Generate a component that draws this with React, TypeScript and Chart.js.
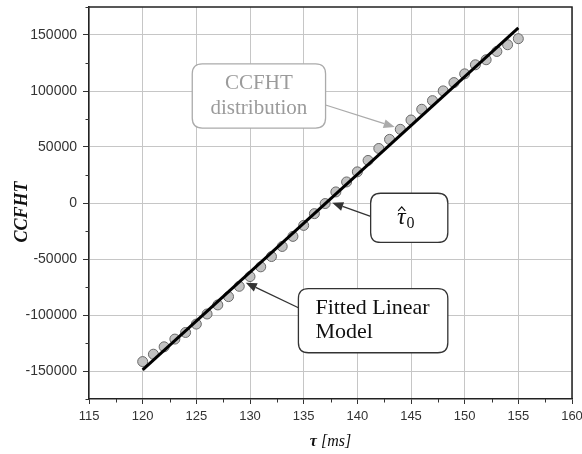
import React, { useEffect, useRef } from 'react';
import { Chart, registerables } from 'chart.js';

Chart.register(...registerables);

// ---- data ----
const tauValues = [
  120, 121, 122, 123, 124, 125, 126, 127, 128, 129, 130, 131, 132, 133, 134, 135, 136, 137,
  138, 139, 140, 141, 142, 143, 144, 145, 146, 147, 148, 149, 150, 151, 152, 153, 154, 155,
];
const ccfhtValues = [
  -141600, -135000, -128400, -121500, -115600, -108100, -99100, -91000, -83600, -74400,
  -65700, -57000, -47800, -38800, -29800, -20000, -9500, -500, 9900, 18800, 27800, 38000,
  48700, 56800, 65800, 74100, 83700, 91400, 100100, 107500, 115300, 123400, 127900, 135300,
  141300, 146700,
];
const fitTau = [120, 155];
const fitValues = [-149000, 156300];

const xTicks = [115, 120, 125, 130, 135, 140, 145, 150, 155, 160];
const yTicks = [-150000, -100000, -50000, 0, 50000, 100000, 150000];
const xMinorTicks = [117.5, 122.5, 127.5, 132.5, 137.5, 142.5, 147.5, 152.5, 157.5];
const yMinorTicks = [-175000, -125000, -75000, -25000, 25000, 75000, 125000, 175000];

const xMin = 115;
const xMax = 160;
const yMin = -175000;
const yMax = 175000;

// annotation callouts (box corners and arrow ends in data units)
const annotations = [
  {
    lines: ['CCFHT', 'distribution'],
    box: [124.62, 124300, 137.04, 66900],
    from: [137.04, 87500],
    to: [143.48, 67800],
    color: '#9b9b9b',
    border: '#ababab',
    font: "21px 'Liberation Serif'",
    align: 'center',
    lineGap: 25,
  },
  {
    lines: ['Fitted Linear', 'Model'],
    box: [134.51, -76400, 148.43, -133700],
    from: [134.51, -93500],
    to: [129.61, -71100],
    color: '#111',
    border: '#333',
    font: "22px 'Liberation Serif'",
    align: 'left',
    lineGap: 24,
  },
  {
    lines: ['tau0'],
    box: [141.24, 8700, 148.43, -35200],
    from: [141.24, -11900],
    to: [137.66, 200],
    color: '#111',
    border: '#333',
    font: "22px 'Liberation Serif'",
    align: 'center',
    lineGap: 0,
  },
];

function roundRect(ctx: CanvasRenderingContext2D, x: number, y: number, w: number, h: number, r: number) {
  ctx.beginPath();
  ctx.moveTo(x + r, y);
  ctx.lineTo(x + w - r, y);
  ctx.quadraticCurveTo(x + w, y, x + w, y + r);
  ctx.lineTo(x + w, y + h - r);
  ctx.quadraticCurveTo(x + w, y + h, x + w - r, y + h);
  ctx.lineTo(x + r, y + h);
  ctx.quadraticCurveTo(x, y + h, x, y + h - r);
  ctx.lineTo(x, y + r);
  ctx.quadraticCurveTo(x, y, x + r, y);
  ctx.closePath();
}

function arrow(ctx: CanvasRenderingContext2D, x1: number, y1: number, x2: number, y2: number, color: string) {
  const ang = Math.atan2(y2 - y1, x2 - x1);
  const len = 11;
  const half = 4.5;
  const bx = x2 - len * Math.cos(ang);
  const by = y2 - len * Math.sin(ang);
  ctx.strokeStyle = color;
  ctx.fillStyle = color;
  ctx.lineWidth = 1.3;
  ctx.beginPath();
  ctx.moveTo(x1, y1);
  ctx.lineTo(bx, by);
  ctx.stroke();
  ctx.beginPath();
  ctx.moveTo(x2, y2);
  ctx.lineTo(bx + half * Math.sin(ang), by - half * Math.cos(ang));
  ctx.lineTo(bx - half * Math.sin(ang), by + half * Math.cos(ang));
  ctx.closePath();
  ctx.fill();
}

const decorPlugin = {
  id: 'decor',
  afterDraw(chart: any) {
    const { ctx, chartArea: a } = chart;
    const xs = chart.scales.x;
    const ys = chart.scales.y;
    ctx.save();

    // top and right frame
    ctx.strokeStyle = '#222';
    ctx.lineWidth = 1.5;
    ctx.beginPath();
    ctx.moveTo(a.left, a.top);
    ctx.lineTo(a.right, a.top);
    ctx.lineTo(a.right, a.bottom);
    ctx.stroke();

    // minor ticks
    ctx.lineWidth = 1;
    ctx.strokeStyle = '#333';
    yMinorTicks.forEach((v) => {
      const py = Math.round(ys.getPixelForValue(v)) + 0.5;
      ctx.beginPath();
      ctx.moveTo(a.left - 3.5, py);
      ctx.lineTo(a.left, py);
      ctx.stroke();
    });
    xMinorTicks.forEach((v) => {
      const px = Math.round(xs.getPixelForValue(v)) + 0.5;
      ctx.beginPath();
      ctx.moveTo(px, a.bottom);
      ctx.lineTo(px, a.bottom + 3.5);
      ctx.stroke();
    });

    // y axis title
    ctx.save();
    ctx.translate(22, (a.top + a.bottom) / 2 + 9);
    ctx.rotate(-Math.PI / 2);
    ctx.fillStyle = '#111';
    ctx.font = "bold italic 18px 'Liberation Serif'";
    ctx.textAlign = 'center';
    ctx.textBaseline = 'middle';
    ctx.fillText('CCFHT', 0, 0);
    ctx.restore();

    // x axis title
    {
      const cx = (a.left + a.right) / 2;
      const cy = 442;
      ctx.textBaseline = 'middle';
      ctx.textAlign = 'left';
      ctx.font = "bold italic 16px 'Liberation Serif'";
      const t1 = 'τ';
      const w1 = ctx.measureText(t1).width;
      ctx.font = "italic 16px 'Liberation Serif'";
      const t2 = ' [ms]';
      const w2 = ctx.measureText(t2).width;
      const start = cx - (w1 + w2) / 2;
      ctx.fillStyle = '#111';
      ctx.font = "bold italic 16px 'Liberation Serif'";
      ctx.fillText(t1, start, cy);
      ctx.font = "italic 16px 'Liberation Serif'";
      ctx.fillText(t2, start + w1, cy);
    }

    // annotations
    annotations.forEach((an) => {
      const x1 = xs.getPixelForValue(an.box[0]);
      const y1 = ys.getPixelForValue(an.box[1]);
      const x2 = xs.getPixelForValue(an.box[2]);
      const y2 = ys.getPixelForValue(an.box[3]);
      const fx = xs.getPixelForValue(an.from[0]);
      const fy = ys.getPixelForValue(an.from[1]);
      const tx = xs.getPixelForValue(an.to[0]);
      const ty = ys.getPixelForValue(an.to[1]);

      arrow(ctx, fx, fy, tx, ty, an.border);

      roundRect(ctx, x1, y1, x2 - x1, y2 - y1, 10);
      ctx.fillStyle = '#fff';
      ctx.fill();
      ctx.strokeStyle = an.border;
      ctx.lineWidth = 1.3;
      ctx.stroke();

      const cx = (x1 + x2) / 2;
      const cy = (y1 + y2) / 2;
      ctx.fillStyle = an.color;
      ctx.textBaseline = 'middle';
      if (an.lines[0] === 'tau0') {
        ctx.font = "italic 24px 'Liberation Serif'";
        ctx.textAlign = 'left';
        const wt = ctx.measureText('τ').width;
        const sx = cx - 8;
        ctx.fillText('τ', sx - wt / 2, cy);
        // hat
        ctx.strokeStyle = an.color;
        ctx.lineWidth = 1.2;
        ctx.beginPath();
        ctx.moveTo(sx - 3, cy - 7);
        ctx.lineTo(sx + 0.5, cy - 11);
        ctx.lineTo(sx + 4, cy - 7);
        ctx.stroke();
        ctx.font = "16px 'Liberation Serif'";
        ctx.fillText('0', sx + wt / 2 + 1, cy + 6);
      } else {
        ctx.font = an.font;
        const n = an.lines.length;
        an.lines.forEach((ln, i) => {
          const ly = cy + (i - (n - 1) / 2) * an.lineGap;
          if (an.align === 'center') {
            ctx.textAlign = 'center';
            ctx.fillText(ln, cx, ly);
          } else {
            ctx.textAlign = 'left';
            ctx.fillText(ln, x1 + 17, ly);
          }
        });
      }
    });

    ctx.restore();
  },
};

export default function App() {
  const canvasRef = useRef<HTMLCanvasElement | null>(null);

  useEffect(() => {
    if (!canvasRef.current) return;
    const chart = new Chart(canvasRef.current, {
      type: 'scatter',
      data: {
        datasets: [
          {
            label: 'Fitted Linear Model',
            data: fitTau.map((t, i) => ({ x: t, y: fitValues[i] })),
            showLine: true,
            borderColor: '#000',
            borderWidth: 3,
            pointRadius: 0,
            fill: false,
          },
          {
            label: 'CCFHT distribution',
            data: tauValues.map((t, i) => ({ x: t, y: ccfhtValues[i] })),
            showLine: false,
            pointRadius: 5,
            pointBackgroundColor: '#c2c2c2',
            pointBorderColor: '#6a6a6a',
            pointBorderWidth: 1,
          },
        ],
      },
      options: {
        animation: false,
        responsive: true,
        maintainAspectRatio: false,
        layout: { padding: { top: 7, right: 10, left: 0, bottom: 0 } },
        plugins: {
          legend: { display: false },
          tooltip: { enabled: false },
        },
        scales: {
          x: {
            type: 'linear',
            min: xMin,
            max: xMax,
            afterBuildTicks: (scale: any) => {
              scale.ticks = xTicks.map((v) => ({ value: v }));
            },
            afterFit: (scale: any) => {
              scale.height = 55;
              scale.paddingLeft = 0;
              scale.paddingRight = 0;
            },
            grid: {
              color: '#c6c6c6',
              lineWidth: 1,
              tickColor: '#333',
              tickLength: 5,
            },
            border: { display: true, color: '#222', width: 1.5 },
            ticks: {
              color: '#333',
              padding: 5,
              font: { family: "'Liberation Sans', Arial, sans-serif", size: 13 },
              callback: (v: any) => String(v),
              maxRotation: 0,
            },
          },
          y: {
            type: 'linear',
            min: yMin,
            max: yMax,
            afterBuildTicks: (scale: any) => {
              scale.ticks = yTicks.map((v) => ({ value: v }));
            },
            afterFit: (scale: any) => {
              scale.width = 89;
              scale.paddingTop = 0;
              scale.paddingBottom = 0;
            },
            grid: {
              color: '#c6c6c6',
              lineWidth: 1,
              tickColor: '#333',
              tickLength: 6,
            },
            border: { display: true, color: '#222', width: 1.5 },
            ticks: {
              color: '#333',
              padding: 6,
              font: { family: "'Liberation Sans', Arial, sans-serif", size: 14 },
              callback: (v: any) => String(v),
            },
          },
        },
      },
      plugins: [decorPlugin],
    });
    return () => chart.destroy();
  }, []);

  return (
    <div style={{ position: 'absolute', left: 0, top: 0, width: 582, height: 454, background: '#fff' }}>
      <canvas ref={canvasRef} />
    </div>
  );
}
